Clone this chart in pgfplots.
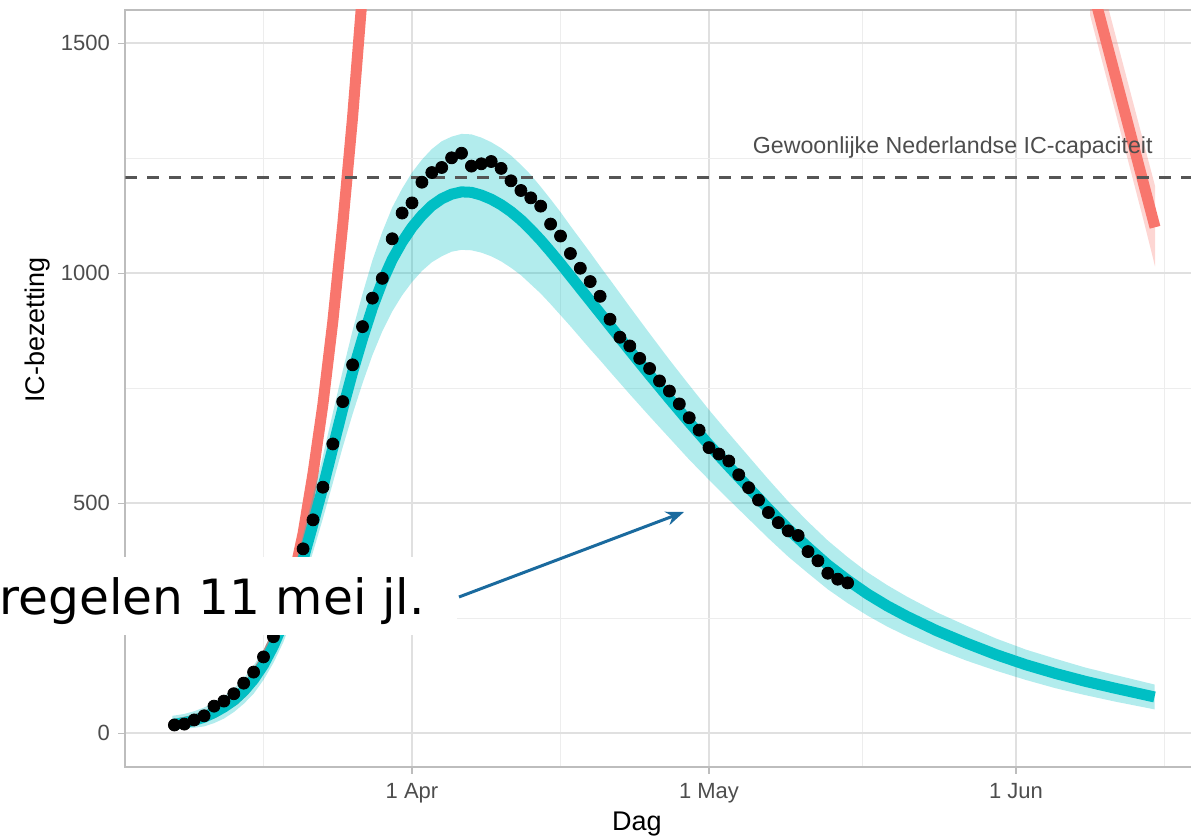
\documentclass[border=0pt]{standalone}
\usepackage{fontspec}
\setmainfont{Liberation Sans}
\newfontfamily\verd{DejaVu Sans}
\usepackage{pgfplots}
\usepackage{pgfplotstable}
\pgfplotsset{compat=1.18}
\usetikzlibrary{arrows.meta}
\definecolor{tealc}{HTML}{00BFC4}
\definecolor{redc}{HTML}{F8766D}
\definecolor{gridmaj}{HTML}{E0E0E0}
\definecolor{gridmin}{HTML}{EDEDED}
\definecolor{bordc}{HTML}{BDBDBD}
\definecolor{tickc}{HTML}{4D4D4D}
\definecolor{dashc}{HTML}{555555}
\definecolor{arrowc}{HTML}{1A6A9E}

\pgfplotstableread{
d L
-24.2 19
-23 23
-22 28
-21 35
-20 45
-19 57
-18 72
-17 92
-16 117
-15 149
-14 190
-13 240
-12 302
-11 378
-10 455
-9 535
-8 620
-7 705
-6 785
-5 858
-4 925
-3 982
-2 1030
-1 1068
0 1100
1 1126
2 1147
3 1162
4 1172
5 1177
6 1176
7 1170
8 1161
9 1149
10 1134
11 1116
12 1095
13 1072
14 1047
15 1021
16 994
17 967
18 940
19 913
20 886
22 832
24 779
26 727
28 676
30 627
32 580
34 534
36 488
38 444
40 404
42 366
44 333
46 303
48 277
50 254
53 223
56 196
59 171
62 149
65 130
68 113
71 98
75 79
}\tealtab

% ribbon outline: upper bound forward, lower bound backward
\pgfplotstableread{
d v
-24.2 38
-23 42
-22 48
-21 56
-20 67
-19 80
-18 97
-17 119
-16 147
-15 181
-14 227
-13 282
-12 349
-11 432
-10 516
-9 603
-8 696
-7 788
-6 876
-5 955
-4 1028
-3 1090
-2 1143
-1 1184
0 1219
1 1247
2 1270
3 1287
4 1297
5 1303
6 1302
7 1295
8 1285
9 1272
10 1256
11 1236
12 1214
13 1188
14 1161
15 1133
16 1103
17 1074
18 1045
19 1015
20 986
22 927
24 869
26 812
28 757
30 703
32 652
34 602
36 552
38 504
40 460
42 419
44 383
46 350
48 322
50 297
53 263
56 234
59 206
62 182
65 162
68 143
71 127
75 106
75 52
71 69
68 83
65 98
62 116
59 136
56 158
53 183
50 211
48 232
46 256
44 283
42 313
40 348
38 384
36 424
34 466
32 508
30 551
28 595
26 642
24 689
22 737
20 786
19 811
18 835
17 860
16 885
15 909
14 933
13 956
12 976
11 996
10 1012
9 1026
8 1037
7 1045
6 1050
5 1051
4 1047
3 1037
2 1024
1 1005
0 981
-1 952
-2 917
-3 874
-4 822
-5 761
-6 694
-7 622
-8 544
-9 467
-10 394
-11 324
-12 255
-13 198
-14 153
-15 116
-16 86
-17 64
-18 46
-19 32
-20 22
-21 15
-22 12
-23 10
-24.2 8
}\tealband

\pgfplotstableread{
d v
-24.2 19
-22 28
-20 45
-18 72
-17 92
-16 119
-15 153
-14 198
-13 258
-12 335
-11 435
-10 565
-9 715
-8 895
-7 1105
-6 1340
-5 1610
-4.5 1770
}\redlefttab

\pgfplotstableread{
d v
68.5 1637
70 1514
72 1350
74 1186
75.05 1100
}\redrighttab

\pgfplotstableread{
d v
68.5 1727
70 1604
72 1440
74 1276
75.05 1190
75.05 1015
74 1106
72 1272
70 1437
68.5 1560
}\redband

\pgfplotstableread{
d v
-24 18
-23 20
-22 29
-21 38
-20 59
-19 70
-18 86
-17 109
-16 133
-15 166
-14 210
-13 262
-12 325
-11 401
-10 464
-9 535
-8 629
-7 721
-6 801
-5 884
-4 946
-3 989
-2 1075
-1 1131
0 1153
1 1198
2 1219
3 1230
4 1251
5 1261
6 1233
7 1238
8 1243
9 1228
10 1201
11 1180
12 1164
13 1146
14 1107
15 1081
16 1043
17 1011
18 982
19 950
20 900
21 861
22 842
23 815
24 793
25 766
26 744
27 716
28 686
29 659
30 621
31 607
32 592
33 562
34 534
35 507
36 480
37 458
38 440
39 430
40 395
41 375
42 348
43 335
44 327
}\obstab

\begin{document}
\begin{tikzpicture}
\begin{axis}[
  at={(62.65pt,36.15pt)}, anchor=south west,
  scale only axis, width=534.85pt, height=378.35pt,
  xmin=-28.96, xmax=79.09, ymin=-72.6, ymax=1572.4,
  xtick={0,30,61}, xticklabels={1 Apr,1 May,1 Jun},
  minor xtick={-15,15,45.5,76},
  ytick={0,500,1000,1500}, yticklabels={0,500,1000,1500},
  minor ytick={250,750,1250},
  grid=both,
  major grid style={draw=gridmaj, line width=0.8pt},
  minor grid style={draw=gridmin, line width=0.5pt},
  axis line style={draw=bordc, line width=0.9pt},
  tick pos=left, tick align=outside,
  major tick length=3.5pt, minor tick length=0pt,
  tick style={draw=bordc, line width=0.7pt},
  tick label style={font=\fontsize{11}{13}\selectfont, text=tickc},
  xticklabel style={anchor=north, inner sep=0pt, yshift=-4.5pt},
  yticklabel style={anchor=east, inner sep=0pt, xshift=-4pt},
  clip=true,
]
\addplot[redc, line width=5.5pt, line join=round] table[x=d,y=v] {\redlefttab};
\addplot[draw=none, fill=redc, fill opacity=0.3] table[x=d,y=v] {\redband} -- cycle;
\addplot[redc, line width=5.5pt, line join=round] table[x=d,y=v] {\redrighttab};
\addplot[draw=none, fill=tealc, fill opacity=0.3] table[x=d,y=v] {\tealband} -- cycle;
\addplot[tealc, line width=5.5pt, line join=round] table[x=d,y=L] {\tealtab};
\addplot[dashc, line width=1.6pt, dash pattern=on 6pt off 5pt] coordinates {(-28.96,1208) (79.09,1208)};
\addplot[only marks, mark=*, mark size=3pt, mark options={draw=black, fill=black}] table[x=d,y=v] {\obstab};
\node[anchor=base east, inner sep=0pt, text=tickc, font=\fontsize{11.6}{14}\selectfont] at (axis cs:74.85,1261) {Gewoonlijke Nederlandse IC-capaciteit};
\end{axis}
\begin{scope}
\clip (0pt,0pt) rectangle (595.5pt,419.5pt);
\fill[white] (-5pt,102pt) rectangle (228.5pt,141pt);
\node[anchor=base east, inner sep=0pt, font=\verd\fontsize{24.3}{29}\selectfont] at (212.5pt,112pt) {maatregelen 11 mei jl.};
\end{scope}
\draw[arrowc, line width=1.5pt, -{Stealth[length=9pt,width=7pt]}] (229.5pt,121pt) -- (342pt,163.5pt);
\node[rotate=90, inner sep=0pt, font=\fontsize{13.5}{16}\selectfont] at (19pt,254.5pt) {IC-bezetting};
\node[anchor=base, inner sep=0pt, font=\fontsize{13.5}{16}\selectfont] at (318.5pt,4pt) {Dag};
\pgfresetboundingbox
\path[use as bounding box] (0pt,0pt) rectangle (595.5pt,419.5pt);
\end{tikzpicture}
\end{document}
